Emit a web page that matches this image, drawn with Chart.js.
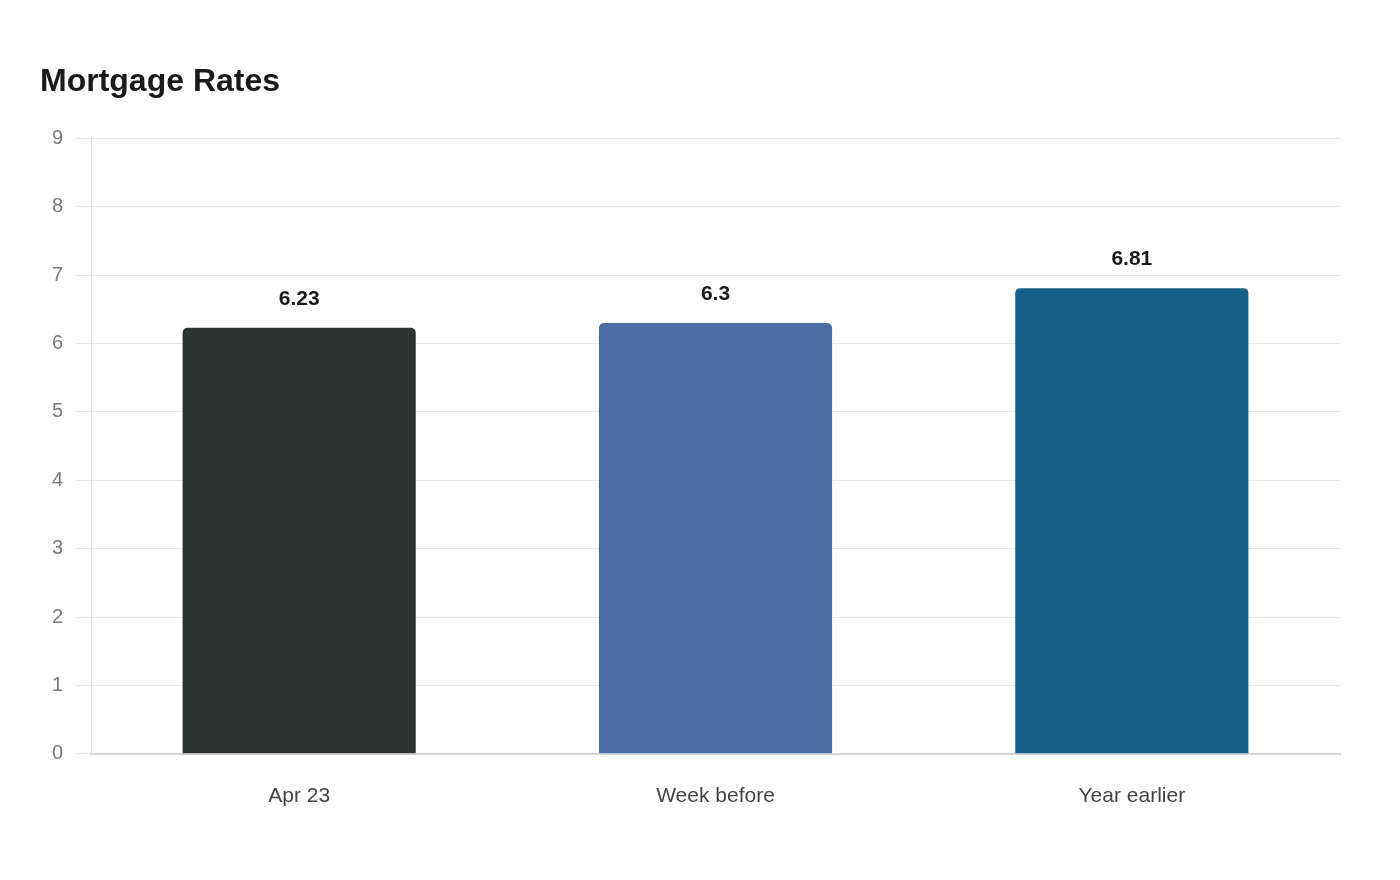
<!DOCTYPE html>
<html>
<head>
<meta charset="utf-8">
<script src="https://cdn.jsdelivr.net/npm/chart.js@4/dist/chart.umd.min.js"></script>
<style>
  html, body { margin: 0; padding: 0; background: #ffffff; }
  #wrap { width: 1400px; height: 880px; position: relative; }
</style>
</head>
<body>
<div id="wrap"><canvas id="c"></canvas></div>
<script>
const chartTitle = 'Mortgage Rates';
const categories = ['Apr 23', 'Week before', 'Year earlier'];
const rates = [6.23, 6.3, 6.81];
const barColors = ['#2d3436', '#4a6fa5', '#166088'];
const yTicks = [0, 1, 2, 3, 4, 5, 6, 7, 8, 9];

const FONT = '"Liberation Sans", Arial, Helvetica, sans-serif';

const valueLabels = {
  id: 'valueLabels',
  afterDatasetsDraw(chart) {
    const ctx = chart.ctx;
    const meta = chart.getDatasetMeta(0);
    ctx.save();
    ctx.font = 'bold 21px ' + FONT;
    ctx.fillStyle = '#1a1a1a';
    ctx.textAlign = 'center';
    ctx.textBaseline = 'middle';
    meta.data.forEach((bar, i) => {
      ctx.fillText(String(chart.data.datasets[0].data[i]), bar.x, bar.y - 29);
    });
    ctx.restore();
  }
};

new Chart(document.getElementById('c'), {
  type: 'bar',
  data: {
    labels: categories,
    datasets: [{
      data: rates,
      backgroundColor: barColors,
      borderColor: barColors,
      borderWidth: 0,
      borderRadius: 5,
      barPercentage: 0.7,
      categoryPercentage: 0.8
    }]
  },
  options: {
    responsive: true,
    maintainAspectRatio: false,
    animation: false,
    layout: { padding: { left: 40, right: 60, top: 0, bottom: 41 } },
    plugins: {
      legend: { display: false },
      tooltip: { enabled: false },
      title: {
        display: true,
        text: chartTitle,
        align: 'start',
        color: '#1a1a1a',
        font: { family: FONT, size: 32, weight: 'bold' },
        padding: { top: 63, bottom: 37 }
      }
    },
    scales: {
      x: {
        grid: { display: false, drawTicks: false },
        border: { display: true, color: '#d4d4d4', width: 2 },
        ticks: { color: '#444444', font: { family: FONT, size: 21 }, padding: 30 }
      },
      y: {
        min: 0,
        max: 9,
        afterBuildTicks(scale) { scale.ticks = yTicks.map(v => ({ value: v })); },
        afterFit(scale) { scale.width = 51; },
        grid: { color: '#e8e8e8', lineWidth: 1, drawTicks: true, tickLength: 15 },
        border: { display: true, color: '#e0e0e0', width: 1 },
        ticks: { color: '#777b80', font: { family: FONT, size: 20 }, padding: 13 }
      }
    }
  },
  plugins: [valueLabels]
});
</script>
</body>
</html>
